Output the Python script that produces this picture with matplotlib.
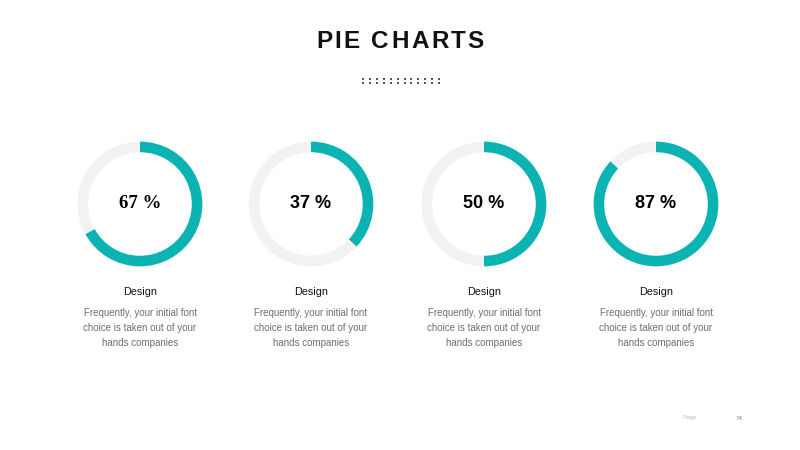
import matplotlib
matplotlib.use("Agg")
import matplotlib.pyplot as plt

title = "PIE CHARTS"
percents = [67, 37, 50, 87]
labels = ["Design", "Design", "Design", "Design"]
desc = ["Frequently, your initial font\nchoice is taken out of your\nhands companies"] * 4
pct_fonts = ["Liberation Serif", "Liberation Sans", "Liberation Sans", "Liberation Sans"]
dots = ":" * 12
page_label = "Page"
page_num = "74"

teal = "#0BB3B3"
grey = "#F2F2F2"

W, H = 800, 450
fig = plt.figure(figsize=(8, 4.5), dpi=100)
fig.patch.set_facecolor("white")
renderer = fig.canvas.get_renderer()

centers_x = [140, 311, 484, 656]
cy = 204
R = 63


def fx(x):
    return x / W


def fy(y):
    return 1 - y / H


def tracked_text(s, xc, y, total_w, **kw):
    # draw characters individually so the string gets letter spacing
    arts = [fig.text(0, fy(y), ch, ha="left", va="center", **kw) for ch in s]
    widths = []
    for ch, a in zip(s, arts):
        if ch == " ":
            t = fig.text(0, 0, "a a", **kw)
            t2 = fig.text(0, 0, "aa", **kw)
            w = t.get_window_extent(renderer).width - t2.get_window_extent(renderer).width
            t.remove(); t2.remove()
        else:
            w = a.get_window_extent(renderer).width
        widths.append(w)
    natural = sum(widths)
    track = (total_w - natural) / (len(s) - 1)
    x = xc - total_w / 2
    for a, w in zip(arts, widths):
        a.set_x(fx(x))
        x += w + track


tracked_text(title, 400, 42, 168, fontsize=17.5, fontweight="bold",
             family="Liberation Sans", color="#111111")
tracked_text(dots, 401, 81, 80, fontsize=7, fontweight="bold",
             family="DejaVu Sans", color="#444444")

for cx, p, lab, d, pf in zip(centers_x, percents, labels, desc, pct_fonts):
    ax = fig.add_axes([fx(cx - R), fy(cy + R), 2 * R / W, 2 * R / H])
    ax.pie([p, 100 - p], colors=[teal, grey], startangle=90, counterclock=False,
           radius=1, wedgeprops=dict(width=0.17, linewidth=0))
    ax.set_xlim(-1.01, 1.01)
    ax.set_ylim(-1.01, 1.01)
    ax.set_aspect("equal")
    ax.axis("off")
    fig.text(fx(cx), fy(cy - 1), f"{p} %", ha="center", va="center",
             fontsize=13.5 if pf.endswith("Serif") else 13,
             fontweight="bold", family=pf, color="#000000")
    fig.text(fx(cx), fy(292), lab, ha="center", va="center", fontsize=7.8,
             family="Liberation Sans", color="#111111")
    fig.text(fx(cx), fy(328), d, ha="center", va="center", fontsize=7,
             family="Liberation Sans", color="#6E6E6E", linespacing=1.62)

fig.text(fx(697), fy(418), page_label, ha="right", va="center", fontsize=4.5,
         family="Liberation Sans", color="#BBBBBB")
fig.text(fx(736), fy(418), page_num, ha="left", va="center", fontsize=4.5,
         family="Liberation Sans", color="#888888")

fig.savefig("out.png", dpi=100, facecolor="white")
